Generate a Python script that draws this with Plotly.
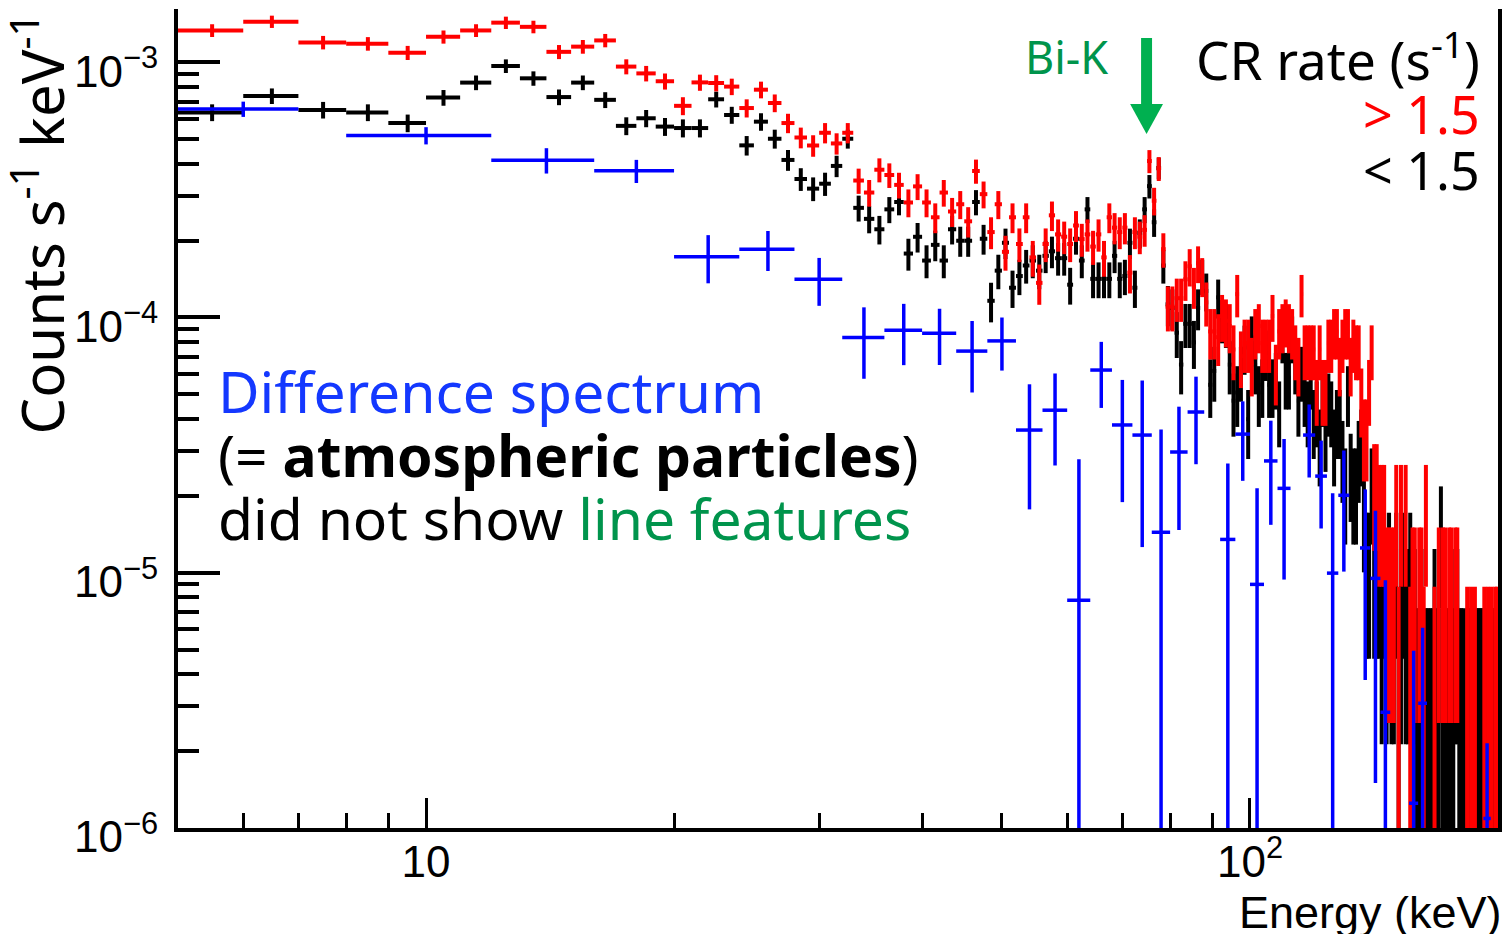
import numpy as np
import plotly.graph_objects as go

# ---------------------------------------------------------------
# Spectra in 1-keV channels (5-200 keV): raw counts per channel
# ---------------------------------------------------------------
chan_lo = np.arange(5, 200)          # channel lower edges (keV)
chan_hi = chan_lo + 1                # channel upper edges (keV)

# CR rate > 1.5 s^-1
red_counts = [
    302, 327, 271, 268, 247, 285, 302, 324, 312, 249, 261, 276, 218, 205, 191,
    153, 189, 188, 182, 150, 177, 157, 131, 115, 107, 120, 109, 120, 78,
    70, 86, 82, 75, 64, 74, 64, 56, 70, 59, 63, 54, 85, 69, 49, 63, 41, 56, 44,
    56, 39, 31, 44, 57, 48, 47, 44, 52, 46, 48, 43, 48, 39, 56, 51, 49, 51, 34,
    49, 47, 50, 93, 65, 87, 42,
    25, 25, 27, 27, 32, 36, 30, 37, 33, 26, 20, 20, 19, 23, 22, 21, 17, 28, 16,
    18, 18, 15, 20, 21, 18, 18, 18, 23, 14, 20, 21, 22, 21, 20, 17, 15, 28, 17,
    17, 17, 17, 12, 17, 12, 12, 18, 18, 20, 20, 15, 18, 20, 20, 15, 18, 17, 17,
    11, 8, 8, 12, 17,
    5, 5, 4, 4, 4, 2, 2, 2, 2, 4, 1, 4, 0, 4, 0, 1, 2, 2, 0, 2, 2, 1, 4, 0, 0,
    0, 1, 0, 2, 0, 2, 2, 0, 2, 2, 0, 2, 2, 0, 0, 0, 0, 1, 0, 1, 0, 1, 0, 0, 0,
    0, 1, 0, 1, 0, 1, 0, 1, 1,
]

# CR rate < 1.5 s^-1
black_counts = [
    175, 203, 179, 175, 159, 200, 229, 266, 238, 201, 229, 196, 155, 166, 154,
    152, 152, 197, 171, 130, 161, 138, 114, 96, 88, 92, 108, 138, 74,
    67, 61, 73, 78, 49, 57, 46, 53, 46, 61, 55, 55, 78, 56, 32, 42, 54, 36, 40,
    44, 46, 42, 48, 50, 47, 47, 37, 56, 46, 73, 39, 39, 39, 39, 48, 39, 40, 54,
    36, 59, 73, 90, 65, 106, 44,
    31, 30, 24, 18, 26, 26, 22, 30, 40, 35, 15, 17, 33, 27, 26, 18, 13, 14, 17,
    21, 11, 23, 18, 14, 15, 20, 15, 15, 16, 12, 23, 16, 16, 23, 18, 13, 17, 14,
    12, 16, 11, 12, 9, 14, 10, 13, 12, 9, 11, 11, 8, 6, 14, 7, 6, 6, 8, 9, 5,
    3, 3, 6,
    3, 3, 3, 2, 3, 2, 3, 2, 2, 3, 1, 2, 3, 2, 2, 3, 2, 2, 1, 1, 2, 1, 1, 1, 1,
    1, 2, 1, 1, 4, 1, 1, 1, 1, 1, 1, 2, 2, 1, 1, 1, 0, 1, 1, 1, 1, 1, 1, 1, 1,
    1, 1, 1, 1, 0, 1, 1, 1, 1,
]

RED_EXPOSURE = 2.27e5     # s
BLACK_EXPOSURE = 2.755e5  # s

# Difference spectrum (counts s^-1 keV^-1), coarse bins
diff_lo = [5, 8, 12, 16, 20, 24, 28, 32, 36, 40, 44, 48, 52, 56, 60, 64, 68, 72,
           76, 80, 84, 92, 96, 100, 104, 108, 116, 120, 124, 128, 136, 140, 144,
           156, 160, 192]
diff_hi = [7, 12, 16, 20, 24, 28, 32, 36, 40, 44, 48, 52, 56, 60, 64, 68, 72, 76,
           80, 84, 88, 96, 100, 104, 108, 112, 120, 124, 128, 132, 140, 144, 148,
           160, 164, 196]
diff_rate = [6.55e-4, 5.16e-4, 4.13e-4, 3.75e-4, 1.73e-4, 1.85e-4, 1.41e-4,
             8.35e-5, 8.9e-5, 8.66e-5, 7.38e-5, 8.09e-5, 3.62e-5, 4.33e-5, 7.8e-6,
             6.22e-5, 3.79e-5, 3.46e-5, 1.44e-5, 2.97e-5, 4.26e-5, 1.35e-5,
             3.49e-5, 9.0e-6, 2.74e-5, 2.14e-5, 3.46e-5, 2.39e-5, 9.96e-6,
             2.01e-5, 1.25e-5, 9.5e-6, 2.84e-6, 1.25e-6, 3.08e-6, 1.09e-6]
diff_err = [4.5e-5, 4.0e-5, 4.7e-5, 3.9e-5, 3.7e-5, 3.3e-5, 3.0e-5, 2.6e-5,
            2.4e-5, 2.15e-5, 2.3e-5, 1.9e-5, 1.85e-5, 1.7e-5, 2.0e-5, 1.8e-5,
            1.9e-5, 2.2e-5, 2.2e-5, 1.5e-5, 1.6e-5, 1.33e-5, 1.2e-5, 1.24e-5,
            1.2e-5, 1.2e-5, 1.1e-5, 0.9e-5, 1.05e-5, 1.0e-5, 0.87e-5, 0.8e-5,
            6.5e-6, 3.7e-6, 3.0e-6, 1.06e-6]

# ---------------------------------------------------------------
# Geometry of the frame (pixels in a 1504 x 934 page)
# ---------------------------------------------------------------
W, H = 1504, 934
L, R, T, B = 178, 2, 9, 106
X_RANGE = [np.log10(5.0), np.log10(200.0)]
Y_RANGE = [-6.0, -6.0 + (H - T - B) / 255.3]


def px(xp):
    return (xp - L) / (W - L - R)


def py(yp):
    return (H - B - yp) / (H - T - B)


def rate_trace(lo, hi, rate, err, color, thick):
    lo = np.asarray(lo, float)
    hi = np.asarray(hi, float)
    rate = np.asarray(rate, float)
    err = np.asarray(err, float)
    keep = rate > 0
    lo, hi, rate, err = lo[keep], hi[keep], rate[keep], err[keep]
    xc = 0.5 * (lo + hi)
    err_lo = np.minimum(err, rate - 1e-12)
    return go.Scatter(
        x=xc, y=rate, mode="markers",
        marker=dict(size=0, color=color, opacity=0),
        error_x=dict(type="data", symmetric=False, array=hi - xc,
                     arrayminus=xc - lo, color=color, thickness=thick, width=0),
        error_y=dict(type="data", symmetric=False, array=err,
                     arrayminus=err_lo, color=color, thickness=thick, width=0),
        hoverinfo="skip", showlegend=False,
    )


def spectrum(counts, exposure):
    n = np.asarray(counts, float)
    width = (chan_hi - chan_lo).astype(float)
    return n / (exposure * width), np.sqrt(n) / (exposure * width)


red_rate, red_err = spectrum(red_counts, RED_EXPOSURE)
black_rate, black_err = spectrum(black_counts, BLACK_EXPOSURE)

fig = go.Figure()
fig.add_trace(rate_trace(chan_lo, chan_hi, black_rate, black_err, "#000000", 4))
fig.add_trace(rate_trace(chan_lo, chan_hi, red_rate, red_err, "#ff0000", 4))
fig.add_trace(rate_trace(diff_lo, diff_hi, diff_rate, diff_err, "#0000ff", 3.5))

TICK_FONT = dict(family="Liberation Sans, Arial, sans-serif", size=44, color="black")
TEXT_FONT = "Noto Sans, Open Sans, sans-serif"

x_minor = [6, 7, 8, 9, 20, 30, 40, 50, 60, 70, 80, 90, 200]
y_minor = [m * 10.0 ** e for e in (-6, -5, -4) for m in range(2, 10)] + \
          [m * 1e-3 for m in (2, 3, 4, 5, 6, 7, 8, 9)]

fig.update_layout(
    width=W, height=H,
    margin=dict(l=L, r=R, t=T, b=B, pad=0),
    paper_bgcolor="white", plot_bgcolor="white",
    showlegend=False,
    xaxis=dict(
        type="log", range=X_RANGE, showgrid=False, zeroline=False,
        showline=True, linecolor="black", linewidth=4, mirror=False,
        ticks="inside", ticklen=30, tickwidth=3, tickcolor="black",
        tickmode="array", tickvals=[10, 100], ticktext=["10", "10<sup>2</sup>"],
        tickfont=TICK_FONT, ticklabelstandoff=-8,
        minor=dict(ticks="inside", ticklen=15, tickwidth=3, tickcolor="black",
                   tickmode="array", tickvals=x_minor, showgrid=False),
    ),
    yaxis=dict(
        type="log", range=Y_RANGE, showgrid=False, zeroline=False,
        showline=True, linecolor="black", linewidth=4, mirror=True,
        ticks="inside", ticklen=42, tickwidth=4, tickcolor="black",
        tickmode="array", tickvals=[1e-6, 1e-5, 1e-4, 1e-3],
        ticktext=["10<sup>\u22126</sup>", "10<sup>\u22125</sup>",
                  "10<sup>\u22124</sup>", "10<sup>\u22123</sup>"],
        tickfont=TICK_FONT, ticklabelstandoff=7, ticklabelshift=9,
        minor=dict(ticks="inside", ticklen=21, tickwidth=4, tickcolor="black",
                   tickmode="array", tickvals=y_minor, showgrid=False),
    ),
)

annotations = [
    # axis titles
    dict(text="Energy (keV)", x=px(1508), y=py(912), xanchor="right", yanchor="middle",
         font=dict(family="Liberation Sans, Arial, sans-serif", size=45, color="black")),
    dict(text="Counts s<sup>-1</sup> keV<sup>-1</sup>", x=px(38), y=py(224),
         xanchor="center", yanchor="middle", textangle=-90,
         font=dict(family=TEXT_FONT, size=58, color="black")),
    # explanatory text
    dict(text="Difference spectrum", x=px(216), y=py(391), xanchor="left", yanchor="middle",
         font=dict(family=TEXT_FONT, size=57, color="#1438ff")),
    dict(text="(= <b>atmospheric particles</b>)", x=px(216), y=py(455),
         xanchor="left", yanchor="middle",
         font=dict(family=TEXT_FONT, size=57, color="black")),
    dict(text="did not show <span style='color:#00944c'>line features</span>",
         x=px(216), y=py(518), xanchor="left", yanchor="middle",
         font=dict(family=TEXT_FONT, size=57, color="black")),
    # legend-like labels
    dict(text="Bi-K", x=px(1069), y=py(56), xanchor="center", yanchor="middle",
         font=dict(family=TEXT_FONT, size=45, color="#00944c")),
    dict(text="CR rate (s<sup>-1</sup>)", x=px(1486), y=py(57), xanchor="right",
         yanchor="middle", font=dict(family=TEXT_FONT, size=53, color="black")),
    dict(text="&gt; 1.5", x=px(1486), y=py(114), xanchor="right", yanchor="middle",
         font=dict(family=TEXT_FONT, size=52, color="#ff0000")),
    dict(text="&lt; 1.5", x=px(1486), y=py(170), xanchor="right", yanchor="middle",
         font=dict(family=TEXT_FONT, size=52, color="black")),
]
for a in annotations:
    a.update(xref="paper", yref="paper", showarrow=False)
fig.update_layout(annotations=annotations)

# Bi-K line marker arrow
ARROW = "#00b050"
fig.add_shape(type="rect", xref="paper", yref="paper",
              x0=px(1144), x1=px(1155), y0=py(106), y1=py(38),
              fillcolor=ARROW, line=dict(width=0), layer="above")
fig.add_shape(type="path", xref="paper", yref="paper",
              path=f"M {px(1133)} {py(104)} L {px(1166)} {py(104)} L {px(1149.5)} {py(134)} Z",
              fillcolor=ARROW, line=dict(width=0), layer="above")

fig.write_html("out.html")
